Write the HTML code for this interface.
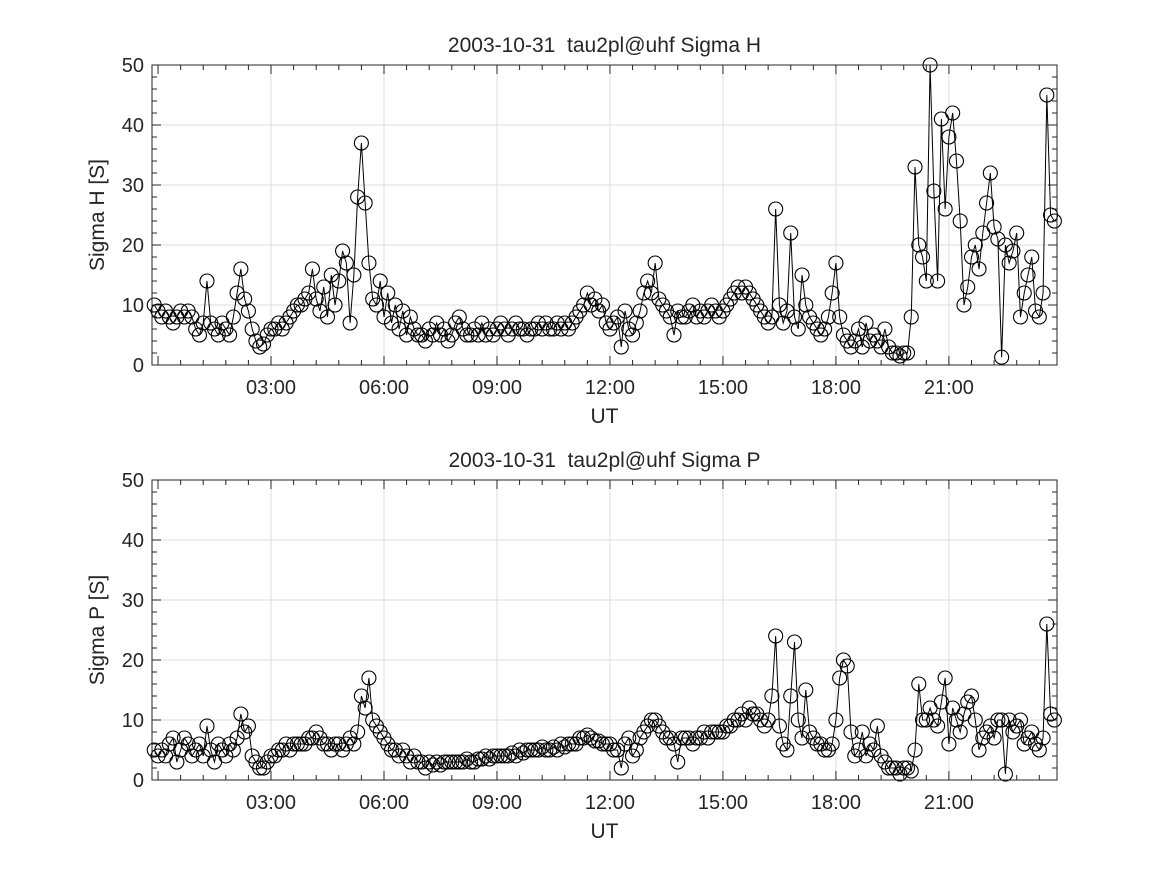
<!DOCTYPE html>
<html><head><meta charset="utf-8"><style>
body{margin:0;background:#fff;}
svg text{font-family:"Liberation Sans","DejaVu Sans",sans-serif;fill:#262626;}
</style></head><body>
<svg id="chart" width="1167" height="875" xmlns="http://www.w3.org/2000/svg"></svg>
<script>
const xTickLabels=["03:00","06:00","09:00","12:00","15:00","18:00","21:00"];
const xTickHours=[3,6,9,12,15,18,21];
const yTicks=[0,10,20,30,40,50];
const startHour=-0.1, stepHour=0.1;
const sigmaH=[10,
9,8,9,8,7,8,9,8,9,8,
6,5,7,14,7,6,5,7,6,5,
8,12,16,11,9,6,4,3,3.5,5,
6,6,7,6,7,8,9,10,10,11,
12,16,11,9,13,8,15,10,14,19,
17,7,15,28,37,27,17,11,10,14,
8,12,7,10,6,9,5,8,6,5,
5,4,6,5,7,5,6,4,5,7,
8,6,5,5,6,5,7,5,6,5,
6,7,6,5,6,7,6,6,5,6,
6,7,6,7,6,6,7,6,7,6,
7,8,9,10,12,10,11,9,10,7,
6,7,8,3,9,6,5,7,9,12,
14,12,17,11,10,9,8,5,9,8,
8,9,10,8,9,8,9,10,9,8,
9,10,11,12,13,12,13,12,11,10,
9,8,7,8,26,10,7,9,22,8,
6,15,10,8,7,6,5,6,8,12,
17,8,5,4,3,4,6,3,7,4,
5,4,3,6,3,2,2,1.5,2,2,
8,33,20,18,14,50,29,14,41,26,
38,42,34,24,10,13,18,20,16,22,
27,32,23,21,1.3,20,17,19,22,8,
12,15,18,9,8,12,45,25,24];
const sigmaP=[5,
4,5,4,6,7,3,5,7,6,4,
5,6,4,9,5,3,6,5,4,6,
5,7,11,8,9,4,3,2,2,3,
4,4,5,5,6,5,6,6,6,6,
7,7,8,7,6,6,5,6,6,5,
6,7,6,8,14,12,17,10,9,8,
7,6,5,5,4,5,4,3,4,3,
3,2,3,2.5,3,2.5,3,3,3,3,
3,3,3.5,3,3,3.5,3.5,4,3.5,4,
4,4,4,4,4.5,4,5,4.5,5,5,
5,5,5.5,5,5,5.5,5,6,5.5,6,
6,6,7,7,7.5,7,6.5,6.5,6,6,
6,5,5,2,6,7,4,5,7,8,
9,10,10,9,8,7,7,6,3,7,
7,7,6,7,7,8,7,8,8,8,
8,9,9,10,10,11,10,12,11,11,
10,9,10,14,24,9,6,5,14,23,
10,7,15,8,7,6,6,5,5,6,
10,17,20,19,8,4,5,8,4,6,
5,9,4,3,2,2,2,1,2,2,
1.5,5,16,10,10,12,10,9,13,17,
6,12,10,8,11,13,14,10,5,7,
8,9,7,10,10,1,10,8,9,10,
6,7,8,6,5,7,26,11,10];

const NS="http://www.w3.org/2000/svg";
const svg=document.getElementById('chart');
function mk(tag,attrs,parent){const e=document.createElementNS(NS,tag);for(const k in attrs)e.setAttribute(k,attrs[k]);(parent||svg).appendChild(e);return e;}
const L=152,R=1057,xmin=-0.16,xmax=23.87;
function xs(h){return L+(h-xmin)/(xmax-xmin)*(R-L);}

function panel(top,bottom,title,ylabel,vals,key){
  const g=mk('g',{});
  
  
  const ys=v=>bottom-(v/50)*(bottom-top);
  mk('rect',{x:L,y:top,width:R-L,height:bottom-top,fill:'#fff'},g);
  xTickHours.forEach(h=>{const l=mk('line',{x1:xs(h),x2:xs(h),y1:top,y2:bottom,stroke:'#dedede','stroke-width':1},g);});
  yTicks.forEach(v=>{const l=mk('line',{x1:L,x2:R,y1:ys(v),y2:ys(v),stroke:'#dedede','stroke-width':1},g);});
  for(let m=0;m<=24;m+=0.6){const x=xs(m);if(x<L||x>R)continue;const major=Math.abs(m/3-Math.round(m/3))<1e-6;const len=major?9:5;
    mk('line',{x1:x,x2:x,y1:bottom,y2:bottom-len,stroke:'#262626'},g);mk('line',{x1:x,x2:x,y1:top,y2:top+len,stroke:'#262626'},g);}
  for(let v=0;v<=50;v+=2){const y=ys(v);const len=v%10===0?9:5;
    mk('line',{x1:L,x2:L+len,y1:y,y2:y,stroke:'#262626'},g);mk('line',{x1:R,x2:R-len,y1:y,y2:y,stroke:'#262626'},g);}
  const pts=vals.map((v,i)=>[xs(startHour+i*stepHour),ys(v)]);
  const line=mk('polyline',{points:pts.map(p=>p.join(',')).join(' '),fill:'none',stroke:'#000','stroke-width':1},g);
  
  
  pts.forEach(p=>{const c=mk('circle',{cx:p[0],cy:p[1],r:7,fill:'none',stroke:'#000','stroke-width':1.1},g);
    
    });
  mk('rect',{x:L,y:top,width:R-L,height:bottom-top,fill:'none',stroke:'#262626','stroke-width':1},g);
  xTickHours.forEach((h,i)=>{const t=mk('text',{x:xs(h),y:bottom+29,'font-size':20,'text-anchor':'middle'},g);t.textContent=xTickLabels[i];
    });
  yTicks.forEach(v=>{const t=mk('text',{x:L-8,y:ys(v)+7,'font-size':20,'text-anchor':'end'},g);t.textContent=v;
    });
  const xt=mk('text',{x:(L+R)/2,y:bottom+58,'font-size':21,'text-anchor':'middle'},g);xt.textContent='UT';
  
  const yt=mk('text',{x:0,y:0,'font-size':21,'text-anchor':'middle',transform:`translate(104,${(top+bottom)/2}) rotate(-90)`},g);yt.textContent=ylabel;
  
  const tt=mk('text',{x:(L+R)/2,y:top-13,'font-size':21,'text-anchor':'middle'},g);tt.textContent=title;tt.style.whiteSpace='pre';
  
}
panel(65,365,'2003-10-31  tau2pl@uhf Sigma H','Sigma H [S]',sigmaH,'sigma-h');
panel(480,780,'2003-10-31  tau2pl@uhf Sigma P','Sigma P [S]',sigmaP,'sigma-p');
</script>
</body></html>
